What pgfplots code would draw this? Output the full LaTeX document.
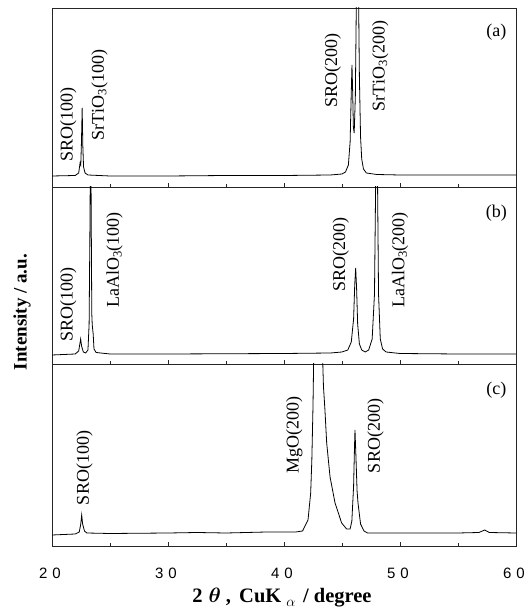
\documentclass[border=0pt]{standalone}
\usepackage{amsmath}
\usepackage{fontspec}
\setmainfont{Liberation Serif}
\newfontfamily\sansf{Liberation Sans}
\usepackage{pgfplots}
\pgfplotsset{compat=1.18}
\newcommand{\lbl}{\fontsize{18}{20}\selectfont}
\pgfplotsset{panel/.style={
  scale only axis, width=464pt, xmin=20, xmax=60, ymin=0,
  ytick=\empty, xtick={20,30,40,50,60}, minor xtick={25,35,45,55},
  xtick pos=lower, tick align=inside, major tick length=4pt, minor tick length=3pt,
  axis line style={black!85, line width=0.6pt},
  every tick/.style={black!85, line width=0.5pt},
  xticklabels=\empty, anchor=south west,
}}
\begin{document}
\begin{tikzpicture}
\useasboundingbox (0,0) rectangle (531pt,616pt);
% panel (a)
\begin{axis}[panel, name=a, at={(52pt,429pt)}, height=179pt, ymax=179]
\addplot[black, line width=0.8pt] coordinates {
(20,11) (22.0,11.5) (22.3,14) (22.42,24) (22.48,22) (22.54,45) (22.6,79) (22.66,40) (22.72,20) (22.85,14) (23.1,12) (25,11) (30,11) (35,11.5) (40,11.5) (44,12) (45,13) (45.3,15) (45.55,22) (45.7,45) (45.8,95) (45.86,122) (45.92,95) (45.98,60) (46.05,54) (46.15,90) (46.25,200) (46.33,260) (46.42,200) (46.5,110) (46.6,50) (46.7,28) (46.85,18) (47.1,14) (48,12.5) (50,12) (55,12) (60,12)};
\node[rotate=90,font=\lbl] at (axis cs:21.4,62) {SRO(100)};
\node[rotate=90,font=\lbl] at (axis cs:24.1,92) {SrTiO\textsubscript{3}(100)};
\node[rotate=90,font=\lbl] at (axis cs:44.2,116) {SRO(200)};
\node[rotate=90,font=\lbl] at (axis cs:48.3,121) {SrTiO\textsubscript{3}(200)};
\node[font=\lbl] at (axis cs:58.3,155) {(a)};
\end{axis}
% panel (b)
\begin{axis}[panel, name=b, at={(52pt,252pt)}, height=177pt, ymax=177]
\addplot[black, line width=0.8pt] coordinates {
(20,9) (21,9.5) (22,10) (22.3,13) (22.4,20) (22.47,25) (22.55,18) (22.7,12) (22.9,11) (23.1,14) (23.2,40) (23.28,150) (23.33,260) (23.38,150) (23.43,50) (23.47,39) (23.55,30) (23.62,15) (23.8,11.5) (25,10) (30,10) (40,10.5) (44,11) (45,12) (45.5,14) (45.8,22) (46.0,45) (46.1,80) (46.18,96) (46.26,75) (46.35,40) (46.5,20) (46.7,14) (47.0,12) (47.3,14) (47.6,25) (47.8,70) (47.92,200) (47.98,280) (48.05,200) (48.15,70) (48.3,25) (48.5,15) (48.8,12) (50,10.5) (55,10) (60,10)};
\node[rotate=90,font=\lbl] at (axis cs:21.4,59) {SRO(100)};
\node[rotate=90,font=\lbl] at (axis cs:25.4,104) {LaAlO\textsubscript{3}(100)};
\node[rotate=90,font=\lbl] at (axis cs:44.9,109) {SRO(200)};
\node[rotate=90,font=\lbl] at (axis cs:50.0,104) {LaAlO\textsubscript{3}(200)};
\node[font=\lbl] at (axis cs:58.3,151) {(b)};
\end{axis}
% panel (c)
\begin{axis}[panel, name=c, at={(52pt,70pt)}, height=182pt, ymax=182,
  xticklabels={{2\hspace{5pt}0},{3\hspace{5pt}0},{4\hspace{5pt}0},{5\hspace{5pt}0},{6\hspace{5pt}0}},
  xticklabel style={anchor=center, yshift=-27pt, xshift=-2pt, font=\sansf\fontsize{15}{17}\selectfont},
  xlabel={\bfseries 2\hspace{6pt}$\boldsymbol{\theta}$\hspace{5pt},\hspace{3pt} CuK\hspace{5pt}\textsubscript{$\alpha$}\hspace{2pt} / degree},
  xlabel style={at={(axis description cs:0.5,0)}, anchor=center, yshift=-52pt, xshift=-2pt, font=\fontsize{20.5}{22}\selectfont}]
\addplot[black, line width=0.8pt] coordinates {
(20,11) (21,11.5) (22,12) (22.35,14) (22.48,22) (22.56,31) (22.64,22) (22.8,15) (23,13) (25,12.5) (30,13) (32.5,13.5) (35,13) (38.5,14) (40,14) (41,14) (41.6,15) (42.07,26) (42.3,53) (42.4,86) (42.5,140) (42.6,220) (42.9,400) (43.25,220) (43.4,160) (43.53,136) (43.68,103) (43.97,69) (44.4,43) (44.97,23) (45.4,17) (45.7,17) (45.85,25) (46.0,60) (46.08,100) (46.12,116) (46.2,90) (46.3,55) (46.38,43) (46.6,22) (46.9,15) (47.2,13) (50,13) (55,13) (56.8,13.5) (57.3,16) (57.7,13.5) (60,13)};
\node[rotate=90,font=\lbl] at (axis cs:22.8,78) {SRO(100)};
\node[rotate=90,font=\lbl] at (axis cs:40.9,111) {MgO(200)};
\node[rotate=90,font=\lbl] at (axis cs:47.9,110) {SRO(200)};
\node[font=\lbl] at (axis cs:58.3,156) {(c)};
\end{axis}
\node[rotate=90, font=\fontsize{19}{21}\selectfont\bfseries] at (22pt,304pt) {Intensity / a.u.};
\end{tikzpicture}
\end{document}
